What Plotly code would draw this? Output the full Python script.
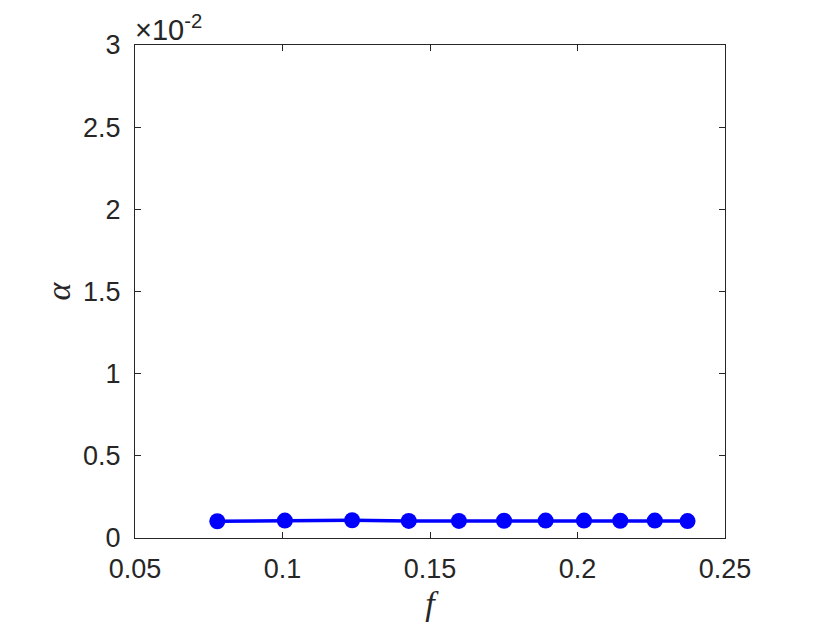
import plotly.graph_objects as go

f_vals = [0.0779, 0.1008, 0.1236, 0.1428, 0.1598, 0.1751, 0.1892, 0.2022, 0.2145, 0.2262, 0.2373]
alpha_vals = [0.00102, 0.00106, 0.00108, 0.00104, 0.00104, 0.00105, 0.00106, 0.00106, 0.00105, 0.00106, 0.00103]

x_ticks = [0.05, 0.1, 0.15, 0.2, 0.25]
x_ticktext = ["0.05", "0.1", "0.15", "0.2", "0.25"]
y_ticks = [0, 0.005, 0.01, 0.015, 0.02, 0.025, 0.03]
y_ticktext = ["0", "0.5", "1", "1.5", "2", "2.5", "3"]

fig = go.Figure()
fig.add_trace(go.Scatter(
    x=f_vals, y=alpha_vals, mode="lines+markers",
    line=dict(color="#0000ff", width=3.5),
    marker=dict(color="#0000ff", size=16),
    showlegend=False,
))

axis_common = dict(
    showgrid=False, zeroline=False, showline=True, linecolor="#262626", linewidth=1,
    mirror="ticks", ticks="inside", ticklen=6, tickcolor="#262626",
    tickfont=dict(family="Liberation Sans, Arial", size=27, color="#262626"),
    automargin=False,
)

serif = "Liberation Serif, Times New Roman, serif"

fig.update_layout(
    width=822, height=615,
    paper_bgcolor="white", plot_bgcolor="white",
    margin=dict(l=127, r=105, t=37, b=85, autoexpand=False),
    xaxis=dict(range=[0.05, 0.25], tickvals=x_ticks, ticktext=x_ticktext,
               ticklabelstandoff=7,
               title=dict(text="<i>f</i>", font=dict(family=serif, size=34, color="#262626"), standoff=7),
               **axis_common),
    yaxis=dict(range=[0, 0.03], tickvals=y_ticks, ticktext=y_ticktext,
               ticklabelstandoff=8,
               title=dict(text="<i>α</i>", font=dict(family=serif, size=34, color="#262626"), standoff=2),
               **axis_common),
    annotations=[dict(
        x=0, y=1, xref="paper", yref="paper", xanchor="left", yanchor="bottom",
        xshift=-2, yshift=-3,
        text="×10<sup>-2</sup>", showarrow=False,
        font=dict(family="Liberation Sans, Arial", size=29, color="#262626"),
    )],
)

fig.write_html("out.html")
